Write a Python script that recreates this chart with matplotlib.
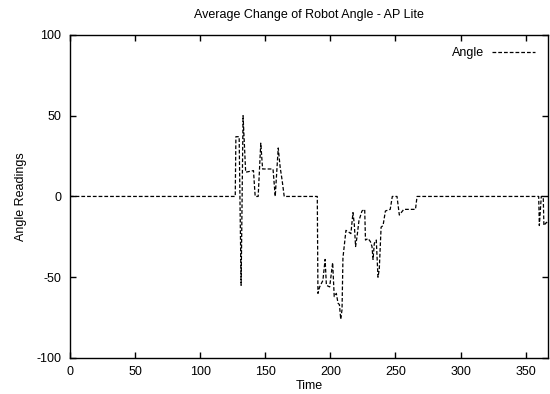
import matplotlib
matplotlib.use("Agg")
import matplotlib.pyplot as plt
from matplotlib.lines import Line2D

plt.rcParams['font.family'] = ['Liberation Sans', 'DejaVu Sans']
plt.rcParams['axes.unicode_minus'] = False

# time / angle readings estimated from the plot
time = [0, 127, 127.5, 130, 131.5, 133, 135, 141, 142.3, 144.6, 146.6, 148, 156,
        157.7, 160, 161.5, 163, 164.6, 190, 190.5, 191.8, 194.3, 196, 197, 199.5,
        201.8, 203, 204.6, 205.9, 207, 208, 209, 209.7, 212, 214, 215.8, 217.4,
        218.4, 219.4, 220.5, 222, 224.3, 226.4, 227, 229, 230.8, 232, 232.8, 233.8,
        235.3, 236.6, 237.6, 239, 240.5, 242.3, 246, 247.6, 251.2, 253, 256.4,
        265.4, 266.6, 360, 360.5, 362, 363.5, 364, 366, 367]
angle = [0, 0, 37, 37, -55, 50, 15, 16, 0, 0, 33, 17, 17,
         0, 30, 18, 10, 0, 0, -60, -56, -52, -39, -55, -56,
         -41, -62, -60, -66, -67, -76, -70, -38, -21, -22, -23, -10,
         -17, -31, -25, -15, -9, -8, -27, -26, -28, -31, -39, -29,
         -27, -50, -45, -19, -18, -9, -8, 0, 0, -11.5, -8,
         -8, 0, 0, -18, 0, 0, -18, -16, -17]

xticks = [0, 50, 100, 150, 200, 250, 300, 350]
yticks = [-100, -50, 0, 50, 100]

fig = plt.figure(figsize=(5.5, 3.94), dpi=100)
ax = fig.add_axes([0.127, 0.0914, 0.869, 0.82])

dash = (0, (3, 1.6))
ax.plot(time, angle, color='black', lw=0.9, linestyle=dash)

ax.set_xlim(0, 367)
ax.set_ylim(-100, 100)
ax.set_xticks(xticks)
ax.set_yticks(yticks)
ax.tick_params(direction='in', top=True, right=True, labelsize=9,
               length=4, width=1, pad=6)
for s in ax.spines.values():
    s.set_linewidth(1)

ax.set_title('Average Change of Robot Angle - AP Lite', fontsize=9, pad=12)
ax.set_xlabel('Time', fontsize=9, labelpad=1)
ax.set_ylabel('Angle Readings', fontsize=9, labelpad=7)

handle = Line2D([], [], color='black', lw=0.9, linestyle=dash)
ax.legend([handle], ['Angle'], loc='upper right', frameon=False, fontsize=9,
          markerfirst=False, handlelength=3.5, handletextpad=0.6,
          borderaxespad=0.6)

fig.savefig('out.png', dpi=100)
